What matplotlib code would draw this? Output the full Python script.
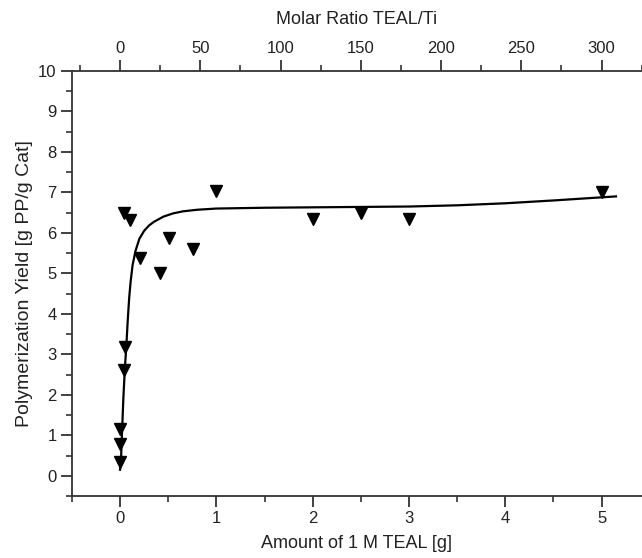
import matplotlib
matplotlib.use("Agg")
import matplotlib.pyplot as plt
from matplotlib.ticker import MultipleLocator

plt.rcParams["font.family"] = ["Liberation Sans", "DejaVu Sans"]

# measured yields vs amount of 1 M TEAL
teal_g = [0.0, 0.0, 0.0, 0.04, 0.05, 0.04, 0.10, 0.21, 0.41, 0.51, 0.76, 1.0,
          2.0, 2.5, 3.0, 5.0]
yield_g = [0.33, 0.79, 1.15, 2.62, 3.17, 6.49, 6.32, 5.37, 5.0, 5.88, 5.6, 7.04,
           6.34, 6.49, 6.34, 7.0]

# fitted trend line
fit_x = [0.0, 0.01, 0.02, 0.035, 0.05, 0.065, 0.08, 0.095, 0.11, 0.13, 0.16,
         0.2, 0.25, 0.3, 0.35, 0.45, 0.55, 0.65, 0.8, 1.0, 1.5, 2.0, 2.5, 3.0,
         3.5, 4.0, 4.5, 5.15]
fit_y = [0.15, 0.4, 1.05, 1.95, 2.65, 3.2, 3.85, 4.4, 4.8, 5.2, 5.55, 5.85,
         6.05, 6.18, 6.27, 6.4, 6.48, 6.53, 6.57, 6.6, 6.62, 6.63, 6.64, 6.65,
         6.68, 6.73, 6.8, 6.9]

ratio_ticks = [0, 50, 100, 150, 200, 250, 300]
MOLAR_PER_G = 60.0

txt = "#222222"
axc = "#333333"
TICK_FS = 12
LABEL_FS = 13

fig = plt.figure(figsize=(6.42, 5.58), dpi=100)
ax = fig.add_axes([0.112, 0.111, 0.888, 0.762])

ax.plot(fit_x, fit_y, color="black", lw=1.6, zorder=2)
ax.plot(teal_g, yield_g, ls="none", marker="v", ms=9, color="black", zorder=3)

ax.set_xlim(-0.5, 5.42)
ax.set_ylim(-0.5, 10)

ax.spines["right"].set_visible(False)
for s in ("left", "bottom", "top"):
    ax.spines[s].set_linewidth(1.3)
    ax.spines[s].set_color(axc)

ax.xaxis.set_major_locator(MultipleLocator(1))
ax.xaxis.set_minor_locator(MultipleLocator(0.5))
ax.yaxis.set_major_locator(MultipleLocator(1))
ax.yaxis.set_minor_locator(MultipleLocator(0.5))
ax.tick_params(axis="both", which="major", direction="out", length=8,
               width=1.3, labelsize=TICK_FS, labelcolor=txt, color=axc)
ax.tick_params(axis="both", which="minor", direction="out", length=4,
               width=1.2, color=axc)
ax.tick_params(axis="x", top=False, pad=3)
ax.tick_params(axis="y", right=False, pad=3)

ax.set_xlabel("Amount of 1 M TEAL [g]", fontsize=LABEL_FS, color=txt,
              labelpad=6)
ax.set_ylabel("Polymerization Yield [g PP/g Cat]", fontsize=14,
              color=txt, labelpad=4)

top = ax.secondary_xaxis("top", functions=(lambda g: g * MOLAR_PER_G,
                                           lambda r: r / MOLAR_PER_G))
top.set_xticks(ratio_ticks)
top.xaxis.set_minor_locator(MultipleLocator(25))
top.tick_params(which="major", direction="out", length=8, width=1.3,
                labelsize=TICK_FS, labelcolor=txt, color=axc, pad=3)
top.tick_params(which="minor", direction="out", length=4, width=1.2,
                color=axc)
top.spines["top"].set_visible(False)
top.set_xlabel("Molar Ratio TEAL/Ti", fontsize=LABEL_FS, color=txt,
               labelpad=12)

fig.savefig("out.png", dpi=100)
